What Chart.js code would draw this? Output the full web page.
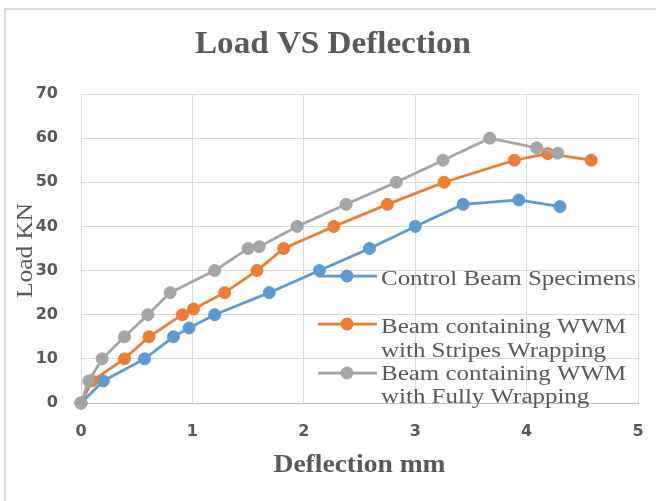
<!DOCTYPE html>
<html>
<head>
<meta charset="utf-8">
<script src="https://cdn.jsdelivr.net/npm/chart.js@4"></script>
<style>
html,body{margin:0;padding:0;background:#fff;}
#wrap{width:656px;height:501px;position:relative;}
</style>
</head>
<body>
<div id="wrap"><canvas id="c" width="656" height="501"></canvas></div>
<script>
// ---- data ----
const seriesNames = [
  ["Control Beam Specimens"],
  ["Beam containing WWM", "with Stripes Wrapping"],
  ["Beam containing WWM", "with Fully Wrapping"]
];
const controlX = [0, 0.2, 0.57, 0.83, 0.97, 1.2, 1.69, 2.14, 2.59, 3.0, 3.43, 3.93, 4.30];
const controlY = [0, 5, 10, 15, 17, 20, 25, 30, 35, 40, 45, 46, 44.5];
const stripesX = [0, 0.1, 0.39, 0.61, 0.91, 1.01, 1.29, 1.58, 1.82, 2.27, 2.75, 3.26, 3.89, 4.19, 4.58];
const stripesY = [0, 5, 10, 15, 20, 21.3, 25, 30, 35, 40, 45, 50, 55, 56.5, 55];
const fullyX = [0, 0.07, 0.19, 0.39, 0.6, 0.8, 1.2, 1.5, 1.6, 1.94, 2.38, 2.83, 3.25, 3.67, 4.09, 4.28];
const fullyY = [0, 5, 10, 15, 20, 25, 30, 35, 35.4, 40, 45, 50, 55, 60, 57.8, 56.6];
const xTicks = [0, 1, 2, 3, 4, 5];
const yTicks = [0, 10, 20, 30, 40, 50, 60, 70];
const chartTitle = "Load VS Deflection";
const xTitle = "Deflection mm";
const yTitle = "Load KN";

const colors = ['#5B9BD5', '#ED7D31', '#A5A5A5'];
const textColor = '#595959';

function pts(xs, ys){ return xs.map((x,i)=>({x:x, y:ys[i]})); }

function stretchText(ctx, s, x, y, font, align, targetW){
  ctx.save();
  ctx.font = font;
  ctx.fillStyle = textColor;
  ctx.textBaseline = 'alphabetic';
  const w = ctx.measureText(s).width;
  const sx = targetW ? targetW / w : 1;
  ctx.translate(x, y);
  ctx.scale(sx, 1);
  ctx.textAlign = align;
  ctx.fillText(s, 0, 0);
  ctx.restore();
  return sx;
}

const decor = {
  id: 'decor',
  beforeDraw(chart){
    const ctx = chart.ctx;
    ctx.save();
    ctx.fillStyle = '#fff';
    ctx.fillRect(0,0,chart.width,chart.height);
    ctx.strokeStyle = '#d9d9d9';
    ctx.lineWidth = 2;
    ctx.beginPath();
    ctx.moveTo(5, chart.height);
    ctx.lineTo(5, 9);
    ctx.lineTo(chart.width, 9);
    ctx.stroke();
    ctx.restore();
  },
  afterDraw(chart){
    const ctx = chart.ctx;
    const ca = chart.chartArea;
    // title
    stretchText(ctx, chartTitle, 333, 53, 'bold 31px "Liberation Serif"', 'center', 276);
    // x title
    stretchText(ctx, xTitle, (ca.left+ca.right)/2, 472, 'bold 25px "Liberation Serif"', 'center', 172);
    // y title
    ctx.save();
    ctx.translate(32, (ca.top+ca.bottom)/2 + 2);
    ctx.rotate(-Math.PI/2);
    stretchText(ctx, yTitle, 0, 0, '24px "Liberation Serif"', 'center', 95);
    ctx.restore();
    // legend
    ctx.save();
    ctx.font = '20px "Liberation Serif"';
    const sx = 255 / ctx.measureText(seriesNames[0][0]).width;
    ctx.restore();
    const rows = [
      {marker: 276, baselines: [285]},
      {marker: 324, baselines: [333, 357]},
      {marker: 373, baselines: [380, 403]}
    ];
    rows.forEach((r, i) => {
      ctx.save();
      ctx.strokeStyle = colors[i];
      ctx.lineWidth = 2.75;
      ctx.beginPath();
      ctx.moveTo(318, r.marker);
      ctx.lineTo(377, r.marker);
      ctx.stroke();
      ctx.fillStyle = colors[i];
      ctx.beginPath();
      ctx.arc(347, r.marker, 6.5, 0, Math.PI*2);
      ctx.fill();
      ctx.restore();
      seriesNames[i].forEach((s, j) => {
        ctx.save();
        ctx.font = '20px "Liberation Serif"';
        ctx.fillStyle = textColor;
        ctx.translate(381, r.baselines[j]);
        ctx.scale(sx, 1);
        ctx.textAlign = 'left';
        ctx.fillText(s, 0, 0);
        ctx.restore();
      });
    });
  }
};

const datasets = [
  {label: seriesNames[0].join(' '), data: pts(controlX, controlY), order: 2},
  {label: seriesNames[1].join(' '), data: pts(stripesX, stripesY), order: 1},
  {label: seriesNames[2].join(' '), data: pts(fullyX, fullyY), order: 0}
].map((d, i) => Object.assign(d, {
  borderColor: colors[i],
  backgroundColor: colors[i],
  borderWidth: 2.75,
  pointRadius: 6,
  pointBorderWidth: 1,
  pointBorderColor: colors[i],
  pointBackgroundColor: colors[i],
  tension: 0,
  showLine: true,
  clip: false
}));

new Chart(document.getElementById('c'), {
  type: 'scatter',
  data: {datasets},
  options: {
    responsive: false,
    animation: false,
    devicePixelRatio: 1,
    layout: {padding: {top: 94, right: 18, left: 0, bottom: 0}},
    plugins: {legend: {display: false}, tooltip: {enabled: false}, title: {display: false}},
    scales: {
      x: {
        type: 'linear', min: 0, max: 5,
        afterBuildTicks(s){ s.ticks = xTicks.map(v => ({value: v})); },
        afterFit(s){ s.height = 98; s.paddingRight = 0; s.paddingLeft = 0; },
        grid: {color: '#d9d9d9', lineWidth: 1, drawTicks: false},
        border: {color: '#bfbfbf', width: 1},
        ticks: {padding: 19, color: textColor, font: {family: '"DejaVu Sans"', weight: 'bold', size: 16}}
      },
      y: {
        type: 'linear', min: 0, max: 70,
        afterBuildTicks(s){ s.ticks = yTicks.map(v => ({value: v})); },
        afterFit(s){ s.width = 81; },
        grid: {color: '#d9d9d9', lineWidth: 1, drawTicks: false},
        border: {color: '#d9d9d9', width: 1},
        ticks: {padding: 23, color: textColor, font: {family: '"DejaVu Sans"', weight: 'bold', size: 16}}
      }
    }
  },
  plugins: [decor]
});
</script>
</body>
</html>
